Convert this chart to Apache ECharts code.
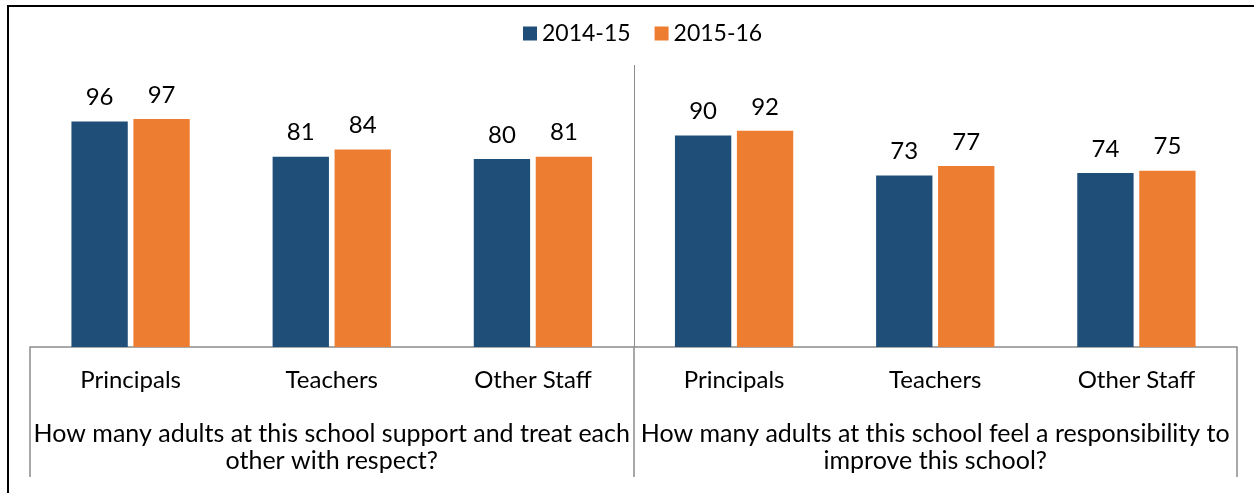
<!DOCTYPE html>
<html>
<head>
<meta charset="utf-8">
<script src="https://cdn.jsdelivr.net/npm/echarts@6/dist/echarts.min.js"></script>
<style>
  html, body { margin: 0; padding: 0; background: #ffffff; }
  #chart { width: 1254px; height: 493px; }
</style>
</head>
<body>
<div id="chart"></div>
<script>
// Survey results: share of respondents by role, two school years
const seriesNames = ['2014-15', '2015-16'];
const roles = ['Principals', 'Teachers', 'Other Staff', 'Principals', 'Teachers', 'Other Staff'];
const questions = [
  'How many adults at this school support and treat each\nother with respect?',
  'How many adults at this school feel a responsibility to\nimprove this school?'
];
const values2014 = [96, 81, 80, 90, 73, 74];
const values2015 = [97, 84, 81, 92, 77, 75];

const FONT = 'Lato';
const AXIS_GRAY = '#8c8c8c';
const colors = ['#1f4e79', '#ed7d31'];

const chart = echarts.init(document.getElementById('chart'), null, { renderer: 'canvas' });

const labelStyle = {
  show: true,
  position: 'top',
  distance: 12,
  color: '#000000',
  fontFamily: FONT,
  fontSize: 24
};

chart.setOption({
  animation: false,
  color: colors,
  textStyle: { fontFamily: FONT },
  legend: {
    data: seriesNames,
    left: 518,
    top: 17,
    itemWidth: 14,
    itemHeight: 14,
    itemGap: 24,
    icon: 'rect',
    textStyle: { fontFamily: FONT, fontSize: 23, color: '#000000' }
  },
  grid: { left: 30, right: 17, top: 65, bottom: 146, containLabel: false },
  xAxis: [
    {
      type: 'category',
      data: roles,
      position: 'bottom',
      axisLine: { show: true, lineStyle: { color: AXIS_GRAY, width: 1.5 } },
      axisTick: { show: false },
      axisLabel: {
        interval: 0,
        margin: 21,
        color: '#000000',
        fontFamily: FONT,
        fontSize: 24
      }
    },
    {
      type: 'category',
      data: questions,
      position: 'bottom',
      axisLine: { show: false },
      axisTick: { show: true, length: 130, lineStyle: { color: AXIS_GRAY, width: 1.5 } },
      axisLabel: {
        interval: 0,
        margin: 73,
        color: '#000000',
        fontFamily: FONT,
        fontSize: 25,
        lineHeight: 27
      }
    }
  ],
  yAxis: {
    type: 'value',
    min: 0,
    max: 120,
    show: false,
    splitLine: { show: false }
  },
  series: [
    {
      name: seriesNames[0],
      type: 'bar',
      xAxisIndex: 0,
      data: values2014,
      barWidth: '28%',
      barGap: '10%',
      label: labelStyle
    },
    {
      name: seriesNames[1],
      type: 'bar',
      xAxisIndex: 0,
      data: values2015,
      barWidth: '28%',
      barGap: '10%',
      label: labelStyle
    }
  ]
});

// Divider between the two question groups, placed halfway between
// the last category of the first group and the first of the second.
const leftCenter = chart.convertToPixel({ xAxisIndex: 0 }, 2);
const rightCenter = chart.convertToPixel({ xAxisIndex: 0 }, 3);
const dividerX = Math.round((leftCenter + rightCenter) / 2) + 0.5;
const yTop = chart.convertToPixel({ yAxisIndex: 0 }, 120);
const yBase = chart.convertToPixel({ yAxisIndex: 0 }, 0);

chart.setOption({
  graphic: [
    {
      type: 'line',
      silent: true,
      shape: { x1: dividerX, y1: yTop, x2: dividerX, y2: yBase },
      style: { stroke: AXIS_GRAY, lineWidth: 1 }
    },
    {
      // outer frame of the figure
      type: 'rect',
      silent: true,
      shape: { x: 8, y: 6, width: 1400, height: 700 },
      style: { fill: 'none', stroke: '#000000', lineWidth: 2 }
    }
  ]
});
</script>
</body>
</html>
